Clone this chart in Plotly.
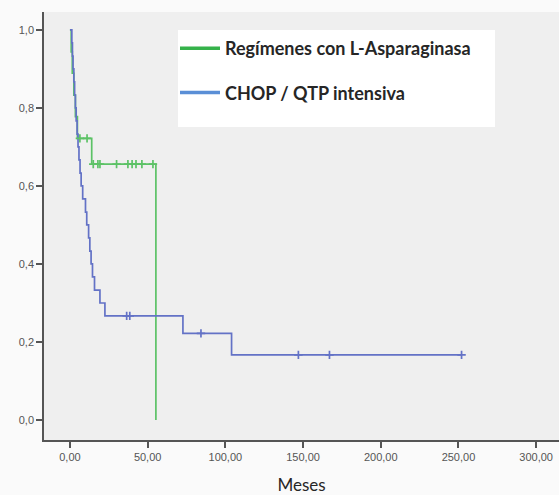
import plotly.graph_objects as go

# Kaplan-Meier step curves (time in months, cumulative survival)
green_name = "Regímenes con L-Asparaginasa"
green_t = [0, 0.8, 1.5, 2.5, 3.5, 4.8, 14.0, 55.3]
green_s = [1.0, 0.944, 0.889, 0.833, 0.778, 0.722, 0.656, 0.0]
green_cens_t = [6.4, 11.0, 15.0, 18.0, 19.3, 30.0, 37.3, 40.0, 42.5, 46.3, 53.4]
green_cens_s = [0.722, 0.722, 0.656, 0.656, 0.656, 0.656, 0.656, 0.656, 0.656, 0.656, 0.656]

blue_name = "CHOP / QTP intensiva"
blue_t = [0, 1.2, 1.6, 2.0, 2.5, 3.0, 3.5, 4.0, 4.6, 5.2, 5.8, 6.5, 7.2, 8.2,
          10.0, 10.8, 12.0, 12.8, 13.6, 14.5, 15.8, 19.3, 22.5, 72.7, 104.0, 252.0]
blue_s = [1.0, 0.967, 0.933, 0.9, 0.867, 0.833, 0.8, 0.767, 0.733, 0.7, 0.667, 0.633, 0.6, 0.567,
          0.533, 0.5, 0.467, 0.433, 0.4, 0.367, 0.333, 0.3, 0.267, 0.222, 0.167, 0.167]
blue_cens_t = [36.5, 38.5, 84.3, 147.0, 167.0, 252.0]
blue_cens_s = [0.267, 0.267, 0.222, 0.167, 0.167, 0.167]

x_ticks = [0, 50, 100, 150, 200, 250, 300]
y_ticks = [0.0, 0.2, 0.4, 0.6, 0.8, 1.0]

GREEN = "#5cc266"
BLUE = "#6372c6"
GREEN_KEY = "#35b24a"
BLUE_KEY = "#5a8fd6"

fig = go.Figure()

# survival curves
fig.add_trace(go.Scatter(
    x=green_t, y=green_s, mode="lines", line=dict(color=GREEN, width=1.7, shape="hv"),
    showlegend=False,
))
fig.add_trace(go.Scatter(
    x=blue_t, y=blue_s, mode="lines", line=dict(color=BLUE, width=1.7, shape="hv"),
    showlegend=False,
))
# censored observations
fig.add_trace(go.Scatter(
    x=green_cens_t, y=green_cens_s, mode="markers", showlegend=False,
    marker=dict(symbol="cross-thin", size=6, line=dict(color=GREEN, width=1.7)),
))
fig.add_trace(go.Scatter(
    x=blue_cens_t, y=blue_cens_s, mode="markers", showlegend=False,
    marker=dict(symbol="cross-thin", size=6, line=dict(color=BLUE, width=1.7)),
))
# legend keys with heavier lines
fig.add_trace(go.Scatter(
    x=[None], y=[None], mode="lines", line=dict(color=GREEN_KEY, width=3.5),
    name=green_name, legendgroup="g1",
))
fig.add_trace(go.Scatter(
    x=[None], y=[None], mode="lines", line=dict(color=BLUE_KEY, width=3.5),
    name=blue_name, legendgroup="g2",
))

# white legend panel
fig.add_shape(type="rect", xref="paper", yref="paper", layer="below",
              x0=(178 - 44) / 515, x1=(495 - 44) / 515,
              y0=(440 - 127) / 428, y1=(440 - 30) / 428,
              fillcolor="white", line=dict(width=0))

fig.update_layout(
    width=559, height=495,
    margin=dict(l=44, r=0, t=12, b=55),
    paper_bgcolor="#fafafa",
    plot_bgcolor="#efefef",
    separators=",.",
    font=dict(family="Liberation Sans, Arial", color="#555555", size=11),
    legend=dict(
        x=(175 - 44) / 515, y=(440 - 30) / 428, xanchor="left", yanchor="top",
        bgcolor="rgba(0,0,0,0)", tracegroupgap=18, itemwidth=40,
        font=dict(family="Lato", size=18, color="#262626", weight="bold"),
    ),
    xaxis=dict(
        range=[-16.7, 314.7], tickvals=x_ticks, tickformat=".2f",
        showgrid=False, zeroline=False, showline=True, linecolor="#555555", linewidth=1.5,
        ticks="outside", ticklen=6, tickcolor="#555555", tickwidth=1.5,
        title=dict(text="Meses", font=dict(family="Lato", size=17, color="#262626"), standoff=17),
    ),
    yaxis=dict(
        range=[-0.0513, 1.046], tickvals=y_ticks, tickformat=".1f",
        showgrid=False, zeroline=False, showline=True, linecolor="#555555", linewidth=1.5,
        ticks="outside", ticklen=6, tickcolor="#555555", tickwidth=1.5,
    ),
)

fig.write_html("out.html")
